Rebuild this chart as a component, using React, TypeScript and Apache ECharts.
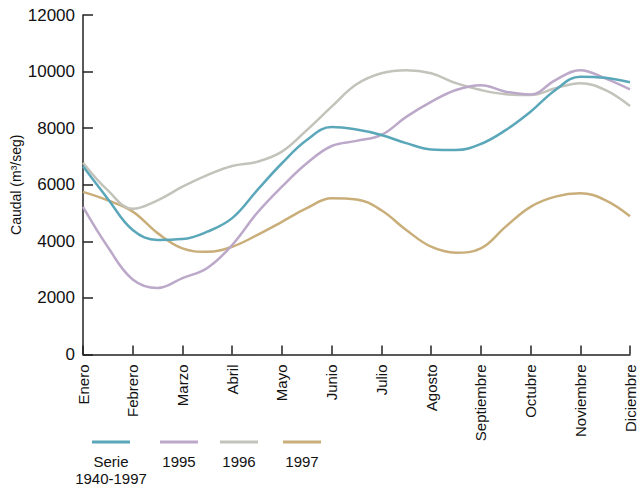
import React, { useEffect, useRef } from "react";
import * as echarts from "echarts";

// Month tick labels (half-month samples in between are blank)
const months = [
  "Enero", "Febrero", "Marzo", "Abril", "Mayo", "Junio",
  "Julio", "Agosto", "Septiembre", "Octubre", "Noviembre", "Diciembre",
];
const categories: string[] = [];
months.forEach((m, i) => {
  categories.push(m);
  if (i < months.length - 1) categories.push("");
});

// Values read at each month and half-month (m³/seg)
const serie19401997 = [6650, 5500, 4400, 4050, 4080, 4340, 4820, 5800, 6760, 7580, 8040, 7950, 7760, 7470, 7250, 7230, 7440, 7930, 8580, 9350, 9820, 9780, 9620];
const y1995 = [5220, 3800, 2650, 2350, 2700, 3060, 3870, 5000, 5930, 6760, 7370, 7550, 7760, 8400, 8930, 9350, 9520, 9290, 9190, 9700, 10050, 9760, 9370];
const y1996 = [6780, 5800, 5150, 5450, 5930, 6340, 6660, 6810, 7170, 7930, 8760, 9550, 9940, 10050, 9940, 9590, 9350, 9200, 9170, 9410, 9590, 9350, 8780];
const y1997 = [5750, 5450, 5050, 4290, 3750, 3630, 3810, 4220, 4690, 5170, 5520, 5480, 5100, 4400, 3810, 3600, 3750, 4520, 5220, 5580, 5700, 5460, 4890];

const seriesNames = ["Serie\n1940-1997", "1995", "1996", "1997"];
const seriesData = [serie19401997, y1995, y1996, y1997];
const colors = ["#5ba7ba", "#bca8c9", "#c3c3bb", "#c9ae7a"];

const FONT = "'Liberation Sans', Arial, Helvetica, sans-serif";

export default function App() {
  const ref = useRef<HTMLDivElement>(null);
  useEffect(() => {
    if (!ref.current) return;
    const chart = echarts.init(ref.current, undefined, { renderer: "svg" });
    const legendX = [92, 160, 220, 283];
    const legendGraphics: any[] = [];
    seriesNames.forEach((name, i) => {
      legendGraphics.push({
        type: "line",
        shape: { x1: legendX[i], y1: 442, x2: legendX[i] + 38, y2: 442 },
        style: { stroke: colors[i], lineWidth: 3 },
      });
      legendGraphics.push({
        type: "text",
        x: legendX[i] + 19,
        y: 453,
        style: {
          text: name,
          fill: "#111",
          font: `15px ${FONT}`,
          align: "center",
          verticalAlign: "top",
          lineHeight: 17,
        },
      });
    });
    chart.setOption({
      animation: false,
      backgroundColor: "#fff",
      textStyle: { fontFamily: FONT },
      grid: { left: 83, right: 7, top: 15, bottom: 132.5, containLabel: false, outerBoundsMode: "none" },
      xAxis: {
        type: "category",
        data: categories,
        boundaryGap: false,
        axisLine: { lineStyle: { color: "#222", width: 1.5 } },
        axisTick: { inside: true, length: 9, interval: 1, lineStyle: { color: "#222", width: 1.5 } },
        axisLabel: {
          interval: 1,
          rotate: 90,
          margin: 10,
          color: "#111",
          fontSize: 15,
          fontFamily: FONT,
        },
        splitLine: { show: false },
      },
      yAxis: {
        type: "value",
        min: 0,
        max: 12000,
        interval: 2000,
        name: "Caudal (m³/seg)",
        nameLocation: "middle",
        nameGap: 60,
        nameRotate: 90,
        nameMoveOverlap: false,
        nameTextStyle: { color: "#111", fontSize: 14, fontFamily: FONT },
        axisLine: { show: true, lineStyle: { color: "#222", width: 1.5 } },
        axisTick: { show: true, inside: true, length: 10, lineStyle: { color: "#222", width: 1.5 } },
        axisLabel: {
          color: "#111",
          fontSize: 17,
          margin: 8,
          fontFamily: FONT,
          formatter: (v: number) => String(v),
        },
        splitLine: { show: false },
      },
      series: seriesData.map((d, i) => ({
        name: seriesNames[i],
        type: "line",
        data: d,
        smooth: 0.4,
        showSymbol: false,
        symbol: "none",
        lineStyle: { color: colors[i], width: 2.5 },
        itemStyle: { color: colors[i] },
        z: 10 - i,
      })),
      graphic: legendGraphics,
    });
    return () => chart.dispose();
  }, []);
  return <div ref={ref} style={{ width: 637, height: 487, position: "absolute", left: 0, top: 0 }} />;
}
